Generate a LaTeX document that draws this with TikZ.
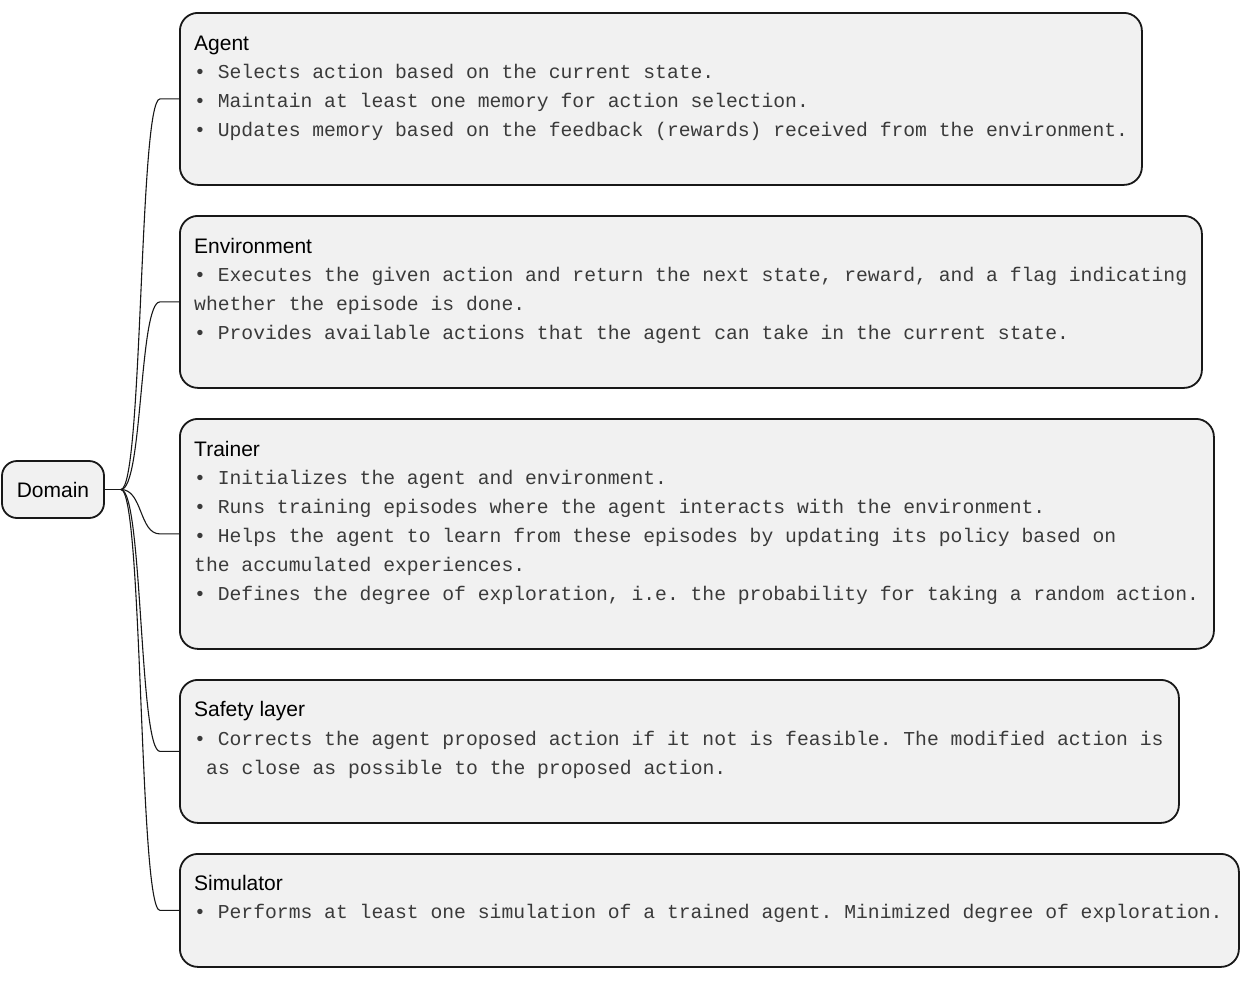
\documentclass[tikz,border=0pt]{standalone}
\usepackage{fontspec}
\setmainfont{Liberation Sans}
\newfontfamily\monofam{Liberation Mono}
\usetikzlibrary{calc}
\definecolor{boxfill}{HTML}{F1F1F1}
\definecolor{boxline}{HTML}{181818}
\definecolor{bodytext}{HTML}{3A3A3A}
\frenchspacing
\begin{document}
\begin{tikzpicture}[x=1pt,y=-1pt,
  box/.style={draw=boxline, line width=1.8pt, fill=boxfill, rounded corners=18pt, inner sep=0pt, anchor=north west},
  ttl/.style={anchor=base west, inner sep=0pt, font=\fontsize{21}{25}\selectfont, text=black},
  body/.style={anchor=base west, inner sep=0pt, font=\monofam\frenchspacing\fontsize{19.7}{25}\selectfont, text=bodytext},
  conn/.style={line width=1.1pt, draw=boxline}]
\useasboundingbox (0,0) rectangle (1249,980);

% root
\node[draw=boxline, line width=1.8pt, fill=boxfill, rounded corners=15pt, minimum width=102pt, minimum height=57pt, inner sep=0pt, font=\fontsize{21}{25}\selectfont] (dom) at (53,489.5) {Domain};

% boxes
\node[box, minimum width=962pt, minimum height=172pt] (agent) at (179,12) {};
\node[box, minimum width=1022pt, minimum height=172pt] (env) at (179,215) {};
\node[box, minimum width=1034pt, minimum height=230pt] (trainer) at (179,418) {};
\node[box, minimum width=999pt, minimum height=143pt] (safety) at (179,679) {};
\node[box, minimum width=1059pt, minimum height=113pt] (sim) at (179,853) {};

% Agent
\node[ttl] (agentT) at (194,50) {Agent};
\node[body] (agentB1) at (194,78) {• Selects action based on the current state.};
\node[body] (agentB2) at (194,107) {• Maintain at least one memory for action selection.};
\node[body] (agentB3) at (194,136) {• Updates memory based on the feedback (rewards) received from the environment.};

% Environment
\node[ttl] (envT) at (194,253) {Environment};
\node[body] (envB1) at (194,281) {• Executes the given action and return the next state, reward, and a flag indicating};
\node[body] (envB2) at (194,310) {whether the episode is done.};
\node[body] (envB3) at (194,339) {• Provides available actions that the agent can take in the current state.};

% Trainer
\node[ttl] (trainerT) at (194,456) {Trainer};
\node[body] (trainerB1) at (194,484) {• Initializes the agent and environment.};
\node[body] (trainerB2) at (194,513) {• Runs training episodes where the agent interacts with the environment.};
\node[body] (trainerB3) at (194,542) {• Helps the agent to learn from these episodes by updating its policy based on};
\node[body] (trainerB4) at (194,571) {the accumulated experiences.};
\node[body] (trainerB5) at (194,600) {• Defines the degree of exploration, i.e. the probability for taking a random action.};

% Safety layer
\node[ttl] (safetyT) at (194,716) {Safety layer};
\node[body] (safetyB1) at (194,745) {• Corrects the agent proposed action if it not is feasible. The modified action is};
\node[body] (safetyB2) at (206,774) {as close as possible to the proposed action.};

% Simulator
\node[ttl] (simT) at (194,890) {Simulator};
\node[body] (simB1) at (194,918) {• Performs at least one simulation of a trained agent. Minimized degree of exploration.};

% connectors
\coordinate (hub) at ($(dom.east)+(16,0)$);
\draw[conn] (dom.east) -- (hub);
\foreach \b in {agent,env,trainer,safety,sim}{
  \draw[conn] (hub) .. controls ($(hub)+(22,0)$) and ($(\b.west)+(-40,0)$) .. ($(\b.west)+(-19,0)$) -- (\b.west);
}
\end{tikzpicture}
\end{document}
